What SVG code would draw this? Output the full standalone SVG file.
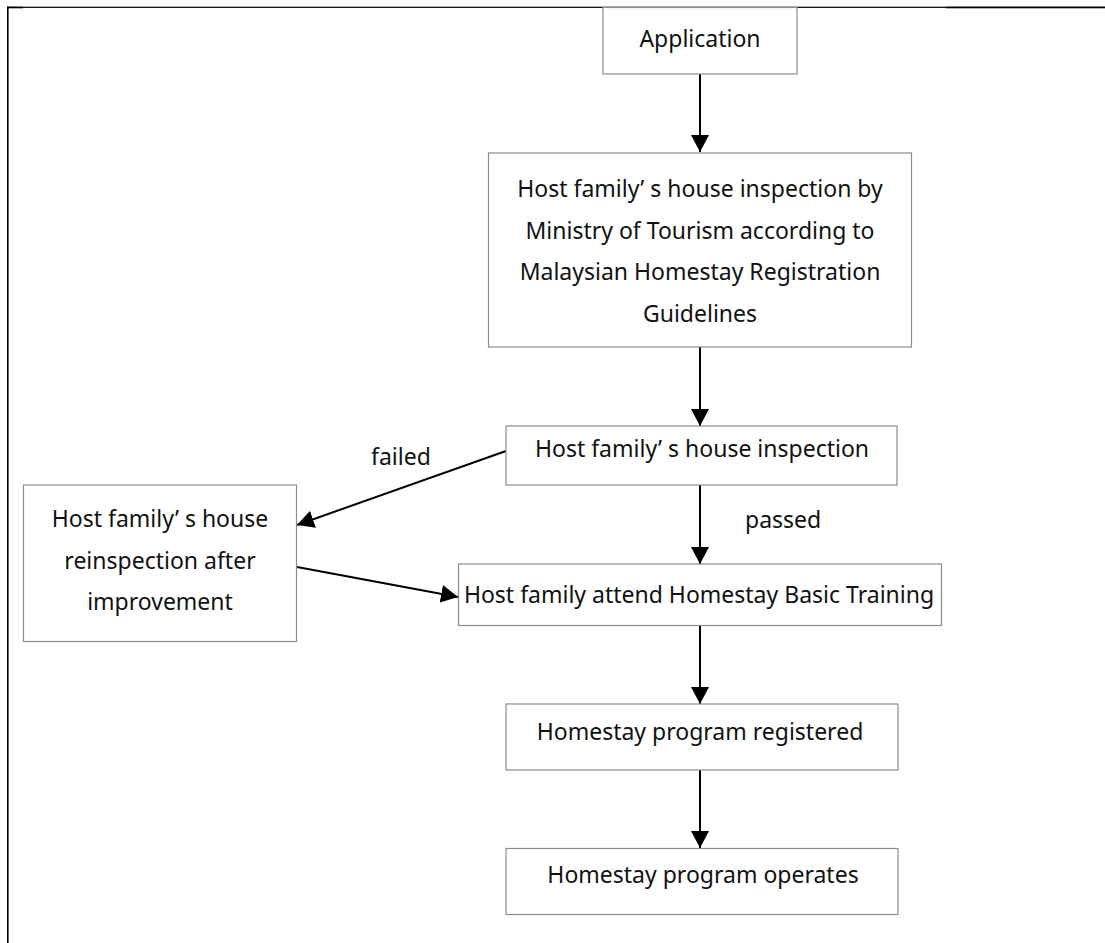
<svg xmlns="http://www.w3.org/2000/svg" width="1105" height="943" viewBox="0 0 1105 943">
<style>
.box{fill:#fff;stroke:#8c8c8c;stroke-width:1.2}
.t{font-family:"Noto Sans","Liberation Sans",sans-serif;font-size:23px;fill:#111;text-anchor:middle}
.lbl{font-family:"Noto Sans","Liberation Sans",sans-serif;font-size:23px;fill:#111}
.c{stroke:#000;stroke-width:2;fill:none;marker-end:url(#ah)}
</style>
<defs>
<marker id="ah" markerUnits="userSpaceOnUse" markerWidth="18" markerHeight="18" refX="17" refY="9" orient="auto">
<path d="M0,0 L17,9 L0,18 Z" fill="#000"/>
</marker>
</defs>
<rect width="1105" height="943" fill="#fff"/>
<g id="frame">
<rect x="7" y="6.7" width="1098" height="1.2" fill="#000"/>
<rect x="7" y="6.7" width="16" height="1.6" fill="#000"/>
<rect x="946" y="6.7" width="159" height="1.6" fill="#000"/>
<rect x="7" y="6.7" width="1.6" height="936.3" fill="#000"/>
</g>
<g id="connectors">
<line class="c" x1="700" y1="74" x2="700" y2="152"/>
<line class="c" x1="700" y1="347" x2="700" y2="426"/>
<line class="c" x1="506" y1="451" x2="297" y2="525"/>
<line class="c" x1="297" y1="567" x2="458" y2="597"/>
<line class="c" x1="700" y1="485" x2="700" y2="564"/>
<line class="c" x1="700" y1="626" x2="700" y2="704"/>
<line class="c" x1="700" y1="770" x2="700" y2="848"/>
<text class="lbl" x="371" y="465">failed</text>
<text class="lbl" x="745" y="528">passed</text>
</g>
<g id="n1">
<rect class="box" x="603" y="7.5" width="194" height="66.5"/>
<text class="t" x="700" y="47">Application</text>
</g>
<g id="n2">
<rect class="box" x="488.5" y="153" width="423" height="194"/>
<text class="t" x="700" y="197">Host family’ s house inspection by</text>
<text class="t" x="700" y="238.5">Ministry of Tourism according to</text>
<text class="t" x="700" y="280">Malaysian Homestay Registration</text>
<text class="t" x="700" y="321.5">Guidelines</text>
</g>
<g id="n3">
<rect class="box" x="506" y="426" width="391" height="59"/>
<text class="t" x="702" y="457">Host family’ s house inspection</text>
</g>
<g id="n4">
<rect class="box" x="23.5" y="485" width="273" height="156.5"/>
<text class="t" x="160" y="527">Host family’ s house</text>
<text class="t" x="160" y="568.5">reinspection after</text>
<text class="t" x="160" y="610">improvement</text>
</g>
<g id="n5">
<rect class="box" x="458.5" y="564" width="483" height="61.5"/>
<text class="t" x="699" y="603">Host family attend Homestay Basic Training</text>
</g>
<g id="n6">
<rect class="box" x="506" y="704" width="392" height="66"/>
<text class="t" x="700" y="739.5">Homestay program registered</text>
</g>
<g id="n7">
<rect class="box" x="506" y="848.5" width="392" height="66"/>
<text class="t" x="703" y="883">Homestay program operates</text>
</g>
</svg>
